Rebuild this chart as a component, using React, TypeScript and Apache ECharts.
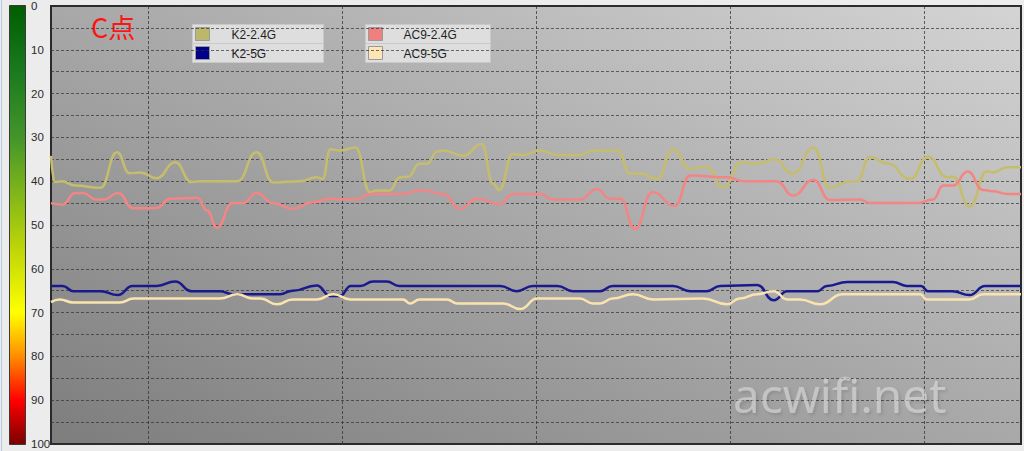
import React, { useEffect, useRef } from "react";
import * as echarts from "echarts";

// ---- data (time index 0..100, signal value 0..100 where 0 is top) ----
const k24Time = [0, 0.4, 1.1, 2.5, 5.1, 6.8, 8.1, 9.2, 10.9, 12.8, 14.5, 15.4, 19.2, 21.2, 22.9, 25.7, 27.4, 28, 28.8, 29.8, 31.4, 32.9, 33.5, 34.9, 36, 36.8, 38, 38.8, 39.8, 40.4, 42.5, 44.4, 45.6, 46.2, 47.6, 48.7, 50.4, 52.2, 54.5, 55.9, 58.4, 59.7, 60.7, 62.5, 64.1, 65.9, 67.6, 69.3, 71.2, 72.8, 74.6, 76.5, 78.6, 80.3, 82.1, 83.1, 84.4, 86.2, 88.6, 90.4, 92.4, 93, 94.7, 96.5, 97.1, 98.6, 100];
const k24Vals = [34.2, 40.2, 40, 41, 41.5, 33.4, 38.2, 38, 39.3, 35.7, 40.2, 40, 40, 33.4, 40.3, 40, 39.1, 39.5, 32.7, 33, 32.3, 42.5, 42.1, 42.1, 39.1, 39, 36, 36, 33.2, 33, 34.2, 31.5, 40.6, 42, 33.8, 34, 33, 34, 34, 33, 33, 38.3, 38.2, 39.5, 32.7, 37.2, 36.7, 41.4, 35.7, 36, 35, 38.3, 32.3, 41.5, 40.2, 40, 34.5, 35.9, 39.5, 34.4, 39.1, 39, 45.8, 37.7, 38, 36.8, 36.8];

const ac24Time = [0, 1.2, 2.5, 3.3, 4.7, 5.4, 6.9, 8.5, 10.9, 12.3, 15.1, 16.1, 17.1, 18.7, 19.8, 21.2, 22.9, 24.9, 27, 28.8, 31.5, 32.9, 36.3, 38.2, 40.4, 42.2, 43.9, 46.3, 47.6, 50.4, 51.8, 54.5, 56.3, 57.6, 58.7, 60.2, 62, 64.3, 65.9, 69.7, 71.3, 74.8, 76.5, 78.6, 80.3, 83.4, 84.4, 89.3, 90.9, 92, 93, 94.5, 96.1, 97.1, 98.6, 100];
const ac24Vals = [45, 45.3, 42.7, 42.7, 44.2, 44.2, 42.7, 46.2, 46.1, 44, 43.8, 46.7, 50.6, 45, 45, 42.7, 45, 46.3, 44.8, 44, 44.2, 42.9, 42.9, 42, 42.9, 46.3, 44, 45.2, 42.9, 42.9, 44.2, 44.2, 41.8, 44, 44, 50.9, 42.5, 45.6, 38.7, 39.1, 40, 40, 43.3, 39.7, 44.3, 44.2, 45, 45, 44.2, 41, 41, 37.8, 42, 42.3, 42.9, 42.9];

const k5Time = [0, 1.2, 2.3, 5.1, 6.9, 8.4, 10.9, 12.8, 14.5, 17.4, 18.7, 23.6, 24.9, 27.4, 28.8, 29.8, 30.9, 31.9, 33.2, 34.6, 35.9, 46.3, 48, 49.7, 52.2, 53.8, 56.6, 57.9, 64.1, 65.9, 67.6, 69, 72.8, 74.5, 75.9, 79, 80, 82.1, 86.8, 88.2, 89.7, 90.4, 92.9, 94.7, 96.3, 100];
const k5Vals = [63.9, 63.9, 65.1, 65.1, 66, 63.9, 63.9, 62.9, 65.1, 65.1, 65.8, 65.8, 65, 63.8, 66.2, 66.2, 63.9, 63.9, 62.9, 62.9, 63.9, 63.9, 65.1, 63.9, 63.9, 65.1, 65.1, 63.9, 63.9, 65.1, 65.1, 63.9, 63.7, 67.2, 65.1, 65.1, 63.9, 63, 63, 63.9, 63.9, 65.1, 65.1, 66, 63.9, 63.9];

const ac5Time = [0, 0.9, 2.3, 7.1, 8.5, 17.4, 19.2, 20.8, 21.6, 23.3, 24.9, 27.4, 29.1, 30.9, 36.3, 37, 38, 40.8, 41.9, 46.6, 48.4, 50.1, 54.5, 55.9, 56.6, 57.9, 60, 62.1, 67.2, 69.7, 71, 72.8, 74.5, 75.9, 77.2, 79.3, 81.6, 89.6, 90.3, 94.7, 96.1, 100];
const ac5Vals = [67.6, 67, 67.7, 67.7, 66.8, 66.8, 65.8, 66.8, 66.8, 68.1, 67, 67, 65.8, 67, 67, 67.9, 67, 67, 67.9, 67.9, 69.2, 66.8, 66.8, 67.9, 67.9, 66.8, 65.8, 67, 66.8, 68.1, 66.8, 65.8, 65.1, 67, 67, 68.1, 65.8, 65.8, 67, 67, 65.8, 65.8];

const seriesNames = ["K2-2.4G", "K2-5G", "AC9-2.4G", "AC9-5G"];
const seriesColors = ["#c6bd6c", "#1a1a8e", "#f38585", "#fbe3b0"];
const legendColors = ["#bdb76b", "#00008b", "#f08080", "#ffe4b5"];
const gridCategories = Array.from({ length: 101 }, (_, i) => String(i));

const pair = (t: number[], v: number[]) => t.map((x, i) => [x, v[i]]);

export default function App() {
  const ref = useRef<HTMLDivElement>(null);
  useEffect(() => {
    if (!ref.current) return;
    const chart = echarts.init(ref.current, undefined, { renderer: "svg" });
    const datasets = [
      pair(k24Time, k24Vals),
      pair(k5Time, k5Vals),
      pair(ac24Time, ac24Vals),
      pair(ac5Time, ac5Vals),
    ];
    const legendItem = (idx: number, left: number, top: number, width: number) => ({
      type: "group",
      left,
      top,
      children: [
        {
          type: "rect",
          shape: { x: 0, y: 0, width, height: 19 },
          style: { fill: "#dedede", stroke: "#c9c9c9", lineWidth: 1 },
        },
        {
          type: "rect",
          shape: { x: 3, y: 3, width: 14, height: 13 },
          style: { fill: legendColors[idx], stroke: "#9a9a9a", lineWidth: 1 },
        },
        {
          type: "text",
          x: idx < 2 ? 39 : 38,
          y: 10,
          style: {
            text: seriesNames[idx],
            fill: "#1e1e1e",
            font: '12px "Liberation Sans"',
            verticalAlign: "middle",
          },
        },
      ],
    });

    chart.setOption({
      animation: false,
      backgroundColor: "#ececec",
      grid: {
        left: 51,
        top: 5,
        width: 970,
        height: 439,
        show: true,
        borderColor: "#2a2a2a",
        borderWidth: 2,
        backgroundColor: new echarts.graphic.LinearGradient(0, 1, 1, 0, [
          { offset: 0, color: "#7d7d7d" },
          { offset: 0.5, color: "#a8a8a8" },
          { offset: 1, color: "#d4d4d4" },
        ]),
      },
      xAxis: [
        {
          type: "value",
          min: 0,
          max: 100,
          interval: 20,
          show: false,
          splitLine: { show: false },
        },
        {
          type: "category",
          data: gridCategories,
          boundaryGap: false,
          axisLine: { show: false },
          axisTick: { show: false },
          axisLabel: { show: false },
          splitLine: {
            show: true,
            interval: (i: number) => i % 20 === 10,
            lineStyle: { color: "rgba(50,50,50,0.75)", type: [3, 2], width: 1 },
          },
        },
      ],
      yAxis: {
        type: "value",
        inverse: true,
        min: 0,
        max: 100,
        interval: 5,
        axisLine: { show: false },
        axisTick: { show: false },
        axisLabel: {
          align: "left",
          margin: 20,
          color: "#2a2a2a",
          fontSize: 11.5,
          fontFamily: '"Liberation Sans"',
          formatter: (v: number) => (v % 10 === 0 ? String(v) : ""),
        },
        splitLine: {
          show: true,
          lineStyle: { color: "rgba(50,50,50,0.7)", type: [3, 2], width: 1 },
        },
      },
      series: seriesNames.map((name, i) => ({
        name,
        type: "line",
        xAxisIndex: 0,
        data: datasets[i],
        showSymbol: false,
        smooth: 0.5,
        smoothMonotone: "x",
        lineStyle: { color: seriesColors[i], width: 2.5 },
        itemStyle: { color: seriesColors[i] },
        z: 3,
      })),
      graphic: [
        {
          type: "rect",
          left: 1,
          top: 0,
          shape: { width: 1, height: 451 },
          style: { fill: "#b4cbe6" },
        },
        {
          type: "rect",
          left: 9,
          top: 5,
          shape: { width: 16, height: 439 },
          style: {
            fill: new echarts.graphic.LinearGradient(0, 0, 0, 1, [
              { offset: 0, color: "#005e00" },
              { offset: 0.15, color: "#1a7a1e" },
              { offset: 0.3, color: "#43952a" },
              { offset: 0.42, color: "#7cb41a" },
              { offset: 0.55, color: "#bcd40a" },
              { offset: 0.7, color: "#ffff00" },
              { offset: 0.8, color: "#ff8c00" },
              { offset: 0.9, color: "#ff0000" },
              { offset: 1, color: "#7a0000" },
            ]),
            stroke: "#3a3a3a",
            lineWidth: 1,
          },
        },
        {
          type: "text",
          left: 91,
          top: 13,
          style: {
            text: "C点",
            fill: "#ff1414",
            font: '27px "Noto Sans CJK SC"',
          },
        },
        legendItem(0, 192, 24, 131),
        legendItem(1, 192, 43, 131),
        legendItem(2, 365, 24, 125),
        legendItem(3, 365, 43, 125),
        {
          type: "text",
          left: 733,
          top: 370,
          z: 10,
          style: {
            text: "acwifi.net",
            fill: "rgba(240,240,240,0.45)",
            font: '48px "Open Sans"',
            textShadowColor: "rgba(0,0,0,0.25)",
            textShadowBlur: 3,
            textShadowOffsetX: 2,
            textShadowOffsetY: 2,
          },
        },
      ],
    });
    return () => chart.dispose();
  }, []);
  return (
    <div
      ref={ref}
      style={{ position: "fixed", left: 0, top: 0, width: 1024, height: 451 }}
    />
  );
}
